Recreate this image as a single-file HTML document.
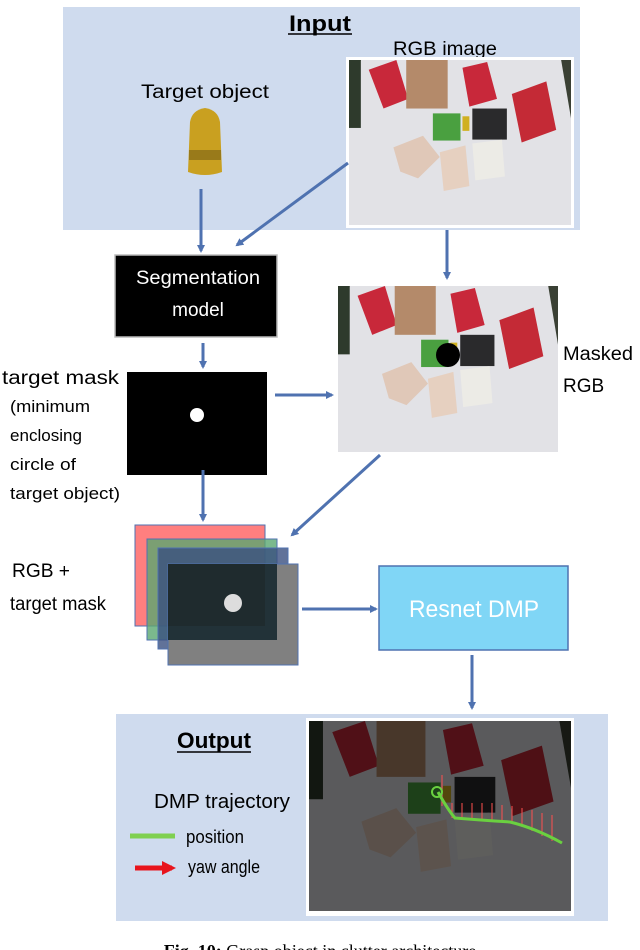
<!DOCTYPE html>
<html><head><meta charset="utf-8"><style>
body{margin:0;background:#fff;}
svg{display:block;font-family:"Liberation Sans",sans-serif;}
</style></head><body>
<svg width="640" height="950" viewBox="0 0 640 950" xmlns="http://www.w3.org/2000/svg">
<defs>
<marker id="ah" markerWidth="8" markerHeight="8" refX="6" refY="4" orient="auto" markerUnits="userSpaceOnUse">
<path d="M0,0 L8,4 L0,8 Z" fill="#4f72b0"/></marker>
<marker id="rh" markerWidth="14" markerHeight="14" refX="10" refY="7" orient="auto" markerUnits="userSpaceOnUse">
<path d="M0,0 L14,7 L0,14 Z" fill="#e8141c"/></marker>
<symbol id="scene" viewBox="0 0 225 170" preserveAspectRatio="none">
<rect width="225" height="170" fill="#3a4034"/>
<polygon points="12,0 215,0 225,60 225,170 0,170 0,40" fill="#e2e2e6"/>
<rect x="0" y="0" width="12" height="70" fill="#2e3a2c"/>
<polygon points="20,10 48,0 60,40 35,50" fill="#c8283a"/>
<rect x="58" y="0" width="42" height="50" fill="#b48a6a"/>
<polygon points="115,8 140,2 150,40 122,48" fill="#c8283a"/>
<polygon points="165,35 200,22 210,72 175,85" fill="#c42a36"/>
<rect x="125" y="50" width="35" height="32" fill="#2a2a2c"/>
<rect x="85" y="55" width="28" height="28" fill="#4aa040"/>
<rect x="115" y="58" width="7" height="15" fill="#d0b020"/>
<polygon points="45,90 75,78 92,100 70,122 52,115" fill="#e0c8b8"/>
<polygon points="92,95 118,88 122,130 96,135" fill="#e6d0c0"/>
<polygon points="125,86 155,82 158,120 128,124" fill="#ecebe6"/>
</symbol>
</defs>

<rect x="63" y="7" width="517" height="223" fill="#cfdbee"/>
<text x="320" y="31" font-size="22" font-weight="bold" text-anchor="middle" textLength="62" lengthAdjust="spacingAndGlyphs">Input</text>
<line x1="288" y1="34" x2="352" y2="34" stroke="#000" stroke-width="1.5"/>
<text x="445" y="55" font-size="19" text-anchor="middle" textLength="104" lengthAdjust="spacingAndGlyphs">RGB image</text>
<text x="205" y="98" font-size="19" text-anchor="middle" textLength="128" lengthAdjust="spacingAndGlyphs">Target object</text>
<path d="M190,122 Q192,110 205,108 Q218,110 220,122 L222,172 Q205,178 188,172 Z" fill="#c9a020"/>
<rect x="189" y="150" width="32" height="10" fill="#7a6018" opacity="0.6"/>
<rect x="346" y="57" width="228" height="171" fill="#fff"/>
<use href="#scene" x="349" y="60" width="222" height="165"/>

<rect x="115" y="255" width="162" height="82" fill="#000" stroke="#bbb" stroke-width="1.5"/>
<text x="198" y="284" font-size="19" fill="#fff" text-anchor="middle" textLength="124" lengthAdjust="spacingAndGlyphs">Segmentation</text>
<text x="198" y="316" font-size="19" fill="#fff" text-anchor="middle">model</text>

<use href="#scene" x="338" y="286" width="220" height="166"/>
<circle cx="448" cy="355" r="12" fill="#000"/>
<text x="563" y="360" font-size="19" textLength="70" lengthAdjust="spacingAndGlyphs">Masked</text>
<text x="563" y="392" font-size="19">RGB</text>

<text x="2" y="384" font-size="19" textLength="117" lengthAdjust="spacingAndGlyphs">target mask</text>
<text x="10" y="412" font-size="17" textLength="80" lengthAdjust="spacingAndGlyphs">(minimum</text>
<text x="10" y="441" font-size="17" textLength="72" lengthAdjust="spacingAndGlyphs">enclosing</text>
<text x="10" y="470" font-size="17" textLength="66" lengthAdjust="spacingAndGlyphs">circle of</text>
<text x="10" y="499" font-size="17" textLength="110" lengthAdjust="spacingAndGlyphs">target object)</text>
<rect x="127" y="372" width="140" height="103" fill="#000"/>
<circle cx="197" cy="415" r="7" fill="#fff"/>

<rect x="135" y="525" width="130" height="101" fill="#ff7f7f" stroke="#4f72b0" stroke-width="1"/>
<rect x="147" y="539" width="130" height="101" fill="#5aa870" fill-opacity="0.8" stroke="#4f72b0" stroke-width="1"/>
<rect x="158" y="548" width="130" height="101" fill="#3a4f80" fill-opacity="0.8" stroke="#4f72b0" stroke-width="1"/>
<rect x="168" y="564" width="130" height="101" fill="#808080" stroke="#4f72b0" stroke-width="1"/>
<rect x="168" y="564" width="109" height="76" fill="#223238"/>
<rect x="168" y="564" width="97" height="62" fill="#1f2b2e"/>
<circle cx="233" cy="603" r="9" fill="#ddd"/>
<text x="12" y="577" font-size="19" textLength="58" lengthAdjust="spacingAndGlyphs">RGB +</text>
<text x="10" y="610" font-size="19" textLength="96" lengthAdjust="spacingAndGlyphs">target mask</text>

<rect x="379" y="566" width="189" height="84" fill="#80d6f6" stroke="#4f72b0" stroke-width="1.5"/>
<text x="474" y="617" font-size="24" fill="#fff" text-anchor="middle" textLength="130" lengthAdjust="spacingAndGlyphs">Resnet DMP</text>

<g stroke="#4f72b0" stroke-width="3" fill="none" marker-end="url(#ah)">
<line x1="201" y1="189" x2="201" y2="251"/>
<line x1="348" y1="163" x2="237" y2="245"/>
<line x1="447" y1="230" x2="447" y2="278"/>
<line x1="203" y1="343" x2="203" y2="367"/>
<line x1="275" y1="395" x2="332" y2="395"/>
<line x1="203" y1="470" x2="203" y2="520"/>
<line x1="380" y1="455" x2="292" y2="535"/>
<line x1="302" y1="609" x2="376" y2="609"/>
<line x1="472" y1="655" x2="472" y2="708"/>
</g>

<rect x="116" y="714" width="492" height="207" fill="#cfdbee"/>
<text x="214" y="748" font-size="22" font-weight="bold" text-anchor="middle" textLength="74" lengthAdjust="spacingAndGlyphs">Output</text>
<line x1="177" y1="752" x2="251" y2="752" stroke="#000" stroke-width="1.5"/>
<text x="222" y="808" font-size="20" text-anchor="middle" textLength="136" lengthAdjust="spacingAndGlyphs">DMP trajectory</text>
<line x1="130" y1="836" x2="175" y2="836" stroke="#7fd050" stroke-width="5"/>
<text x="186" y="843" font-size="18" textLength="58" lengthAdjust="spacingAndGlyphs">position</text>
<line x1="135" y1="868" x2="172" y2="868" stroke="#e8141c" stroke-width="5" marker-end="url(#rh)"/>
<text x="188" y="873" font-size="18" textLength="72" lengthAdjust="spacingAndGlyphs">yaw angle</text>
<rect x="306" y="718" width="268" height="198" fill="#fff"/>
<use href="#scene" x="309" y="721" width="262" height="190"/>
<rect x="309" y="721" width="262" height="190" fill="#000" opacity="0.6"/>
<g stroke="#ff5050" stroke-width="1">
<line x1="442" y1="806" x2="442" y2="775"/>
<line x1="452" y1="818" x2="452" y2="803"/><line x1="462" y1="820" x2="462" y2="803"/>
<line x1="472" y1="820" x2="472" y2="803"/><line x1="482" y1="820" x2="482" y2="803"/>
<line x1="492" y1="820" x2="492" y2="803"/><line x1="502" y1="822" x2="502" y2="805"/>
<line x1="512" y1="824" x2="512" y2="806"/><line x1="522" y1="827" x2="522" y2="808"/>
<line x1="532" y1="831" x2="532" y2="810"/><line x1="542" y1="836" x2="542" y2="813"/>
<line x1="552" y1="841" x2="552" y2="815"/>
</g>
<path d="M438,792 Q448,810 455,818 Q480,820 510,822 Q535,828 562,843" stroke="#6ad040" stroke-width="3" fill="none"/>
<circle cx="437" cy="792" r="5" stroke="#6ad040" stroke-width="2" fill="none"/>

<text x="320" y="957" font-size="18" font-family="Liberation Serif" text-anchor="middle"><tspan font-weight="bold">Fig. 10:</tspan> Grasp object in clutter architecture</text>
</svg>
</body></html>
